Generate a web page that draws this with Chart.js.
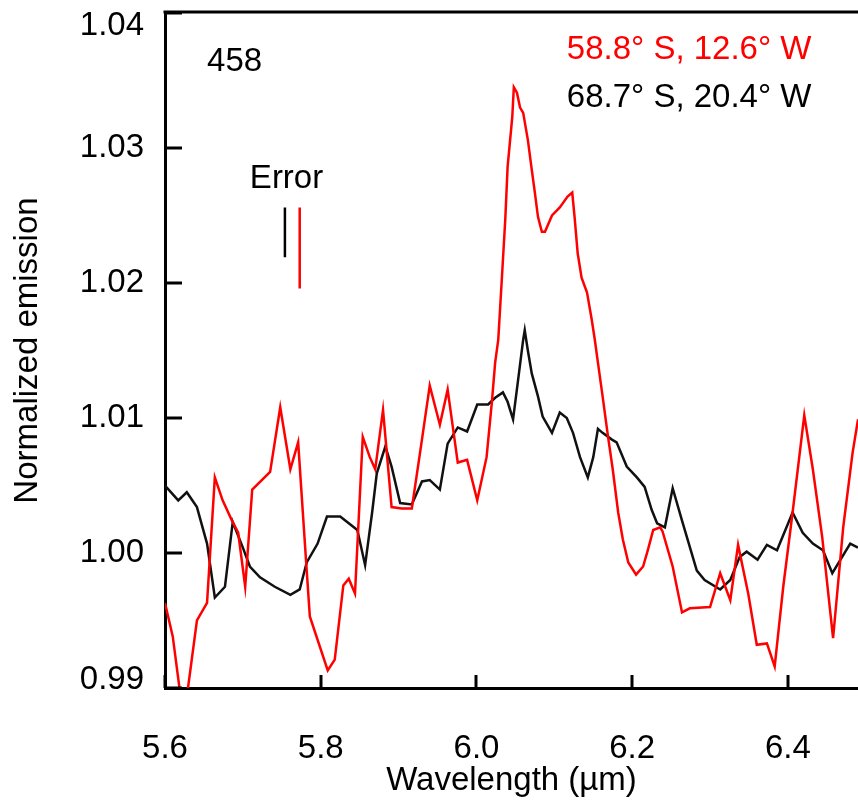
<!DOCTYPE html>
<html>
<head>
<meta charset="utf-8">
<script src="https://cdn.jsdelivr.net/npm/chart.js@4/dist/chart.umd.min.js"></script>
<style>
  html, body { margin: 0; padding: 0; background: #fff; }
  #wrap { width: 858px; height: 801px; }
</style>
</head>
<body>
<div id="wrap"><canvas id="emission-chart"></canvas></div>
<script>
// tick values
const X_TICKS = [5.6, 5.8, 6.0, 6.2, 6.4];
const Y_TICKS = [0.99, 1.00, 1.01, 1.02, 1.03, 1.04];

// 58.8° S, 12.6° W (red)
const RED_WL = [5.600, 5.610, 5.624, 5.641, 5.654, 5.664, 5.674, 5.686, 5.694, 5.703,
  5.712, 5.735, 5.748, 5.761, 5.771, 5.782, 5.786, 5.809, 5.818, 5.829,
  5.836, 5.844, 5.854, 5.863, 5.870, 5.880, 5.891, 5.904, 5.917, 5.930,
  5.940, 5.953, 5.963, 5.976, 5.988, 6.001, 6.013, 6.020, 6.024, 6.028,
  6.033, 6.037, 6.040, 6.046, 6.048, 6.052, 6.056, 6.060, 6.066, 6.071,
  6.075, 6.079, 6.084, 6.088, 6.097, 6.107, 6.117, 6.123, 6.126, 6.130,
  6.135, 6.142, 6.148, 6.152, 6.156, 6.162, 6.169, 6.175, 6.182, 6.188,
  6.195, 6.205, 6.214, 6.220, 6.227, 6.236, 6.239, 6.252, 6.264, 6.274,
  6.300, 6.313, 6.326, 6.336, 6.349, 6.360, 6.373, 6.383, 6.394, 6.406,
  6.421, 6.432, 6.444, 6.458, 6.471, 6.483, 6.490];
const RED_EM = [0.9963, 0.9938, 0.9876, 0.9950, 0.9963, 1.0056, 1.0039, 1.0024, 1.0015, 0.9975,
  1.0047, 1.0060, 1.0108, 1.0062, 1.0082, 0.9987, 0.9953, 0.9913, 0.9921, 0.9976,
  0.9981, 0.9970, 1.0086, 1.0071, 1.0062, 1.0106, 1.0034, 1.0033, 1.0033, 1.0084,
  1.0124, 1.0095, 1.0121, 1.0067, 1.0069, 1.0039, 1.0071, 1.0113, 1.0141, 1.0158,
  1.0207, 1.0247, 1.0286, 1.0323, 1.0345, 1.0341, 1.0330, 1.0326, 1.0306, 1.0284,
  1.0267, 1.0249, 1.0238, 1.0238, 1.0250, 1.0256, 1.0264, 1.0267, 1.0249, 1.0222,
  1.0204, 1.0193, 1.0173, 1.0158, 1.0141, 1.0116, 1.0086, 1.0062, 1.0030, 1.0010,
  0.9993, 0.9984, 0.9990, 1.0002, 1.0017, 1.0019, 1.0016, 0.9990, 0.9956, 0.9959,
  0.9960, 0.9985, 0.9965, 1.0006, 0.9970, 0.9932, 0.9933, 0.9916, 0.9975, 1.0030,
  1.0102, 1.0062, 1.0012, 0.9937, 1.0019, 1.0074, 1.0099];

// 68.7° S, 20.4° W (black)
const BLACK_WL = [5.600, 5.617, 5.628, 5.641, 5.654, 5.664, 5.677, 5.687, 5.700, 5.709,
  5.722, 5.741, 5.761, 5.773, 5.782, 5.796, 5.808, 5.825, 5.847, 5.857,
  5.866, 5.872, 5.883, 5.891, 5.902, 5.917, 5.930, 5.940, 5.953, 5.963,
  5.976, 5.988, 6.001, 6.015, 6.024, 6.034, 6.040, 6.047, 6.053, 6.060,
  6.062, 6.066, 6.071, 6.079, 6.085, 6.097, 6.107, 6.116, 6.124, 6.133,
  6.143, 6.150, 6.156, 6.162, 6.174, 6.180, 6.193, 6.206, 6.216, 6.225,
  6.232, 6.242, 6.252, 6.264, 6.283, 6.293, 6.313, 6.326, 6.338, 6.347,
  6.361, 6.373, 6.386, 6.406, 6.419, 6.432, 6.445, 6.457, 6.480, 6.490];
const BLACK_EM = [1.0050, 1.0039, 1.0045, 1.0034, 1.0007, 0.9967, 0.9975, 1.0023, 1.0004, 0.9990,
  0.9982, 0.9975, 0.9969, 0.9973, 0.9993, 1.0007, 1.0027, 1.0027, 1.0017, 0.9991,
  1.0030, 1.0059, 1.0079, 1.0064, 1.0037, 1.0036, 1.0053, 1.0054, 1.0047, 1.0081,
  1.0093, 1.0090, 1.0110, 1.0110, 1.0115, 1.0119, 1.0112, 1.0099, 1.0126, 1.0158,
  1.0165, 1.0150, 1.0133, 1.0116, 1.0101, 1.0089, 1.0104, 1.0100, 1.0089, 1.0071,
  1.0056, 1.0071, 1.0092, 1.0089, 1.0084, 1.0082, 1.0064, 1.0056, 1.0049, 1.0032,
  1.0022, 1.0019, 1.0048, 1.0024, 0.9987, 0.9980, 0.9973, 0.9980, 0.9997, 1.0001,
  0.9995, 1.0006, 1.0002, 1.0030, 1.0015, 1.0007, 1.0002, 0.9985, 1.0007, 1.0004];

// error bars
const ERR_BLACK_WL = [5.754, 5.754];
const ERR_BLACK_EM = [1.0256, 1.0219];
const ERR_RED_WL = [5.773, 5.773];
const ERR_RED_EM = [1.0256, 1.0196];

const SPOT_LABEL = "458";
const LEGEND_RED = "58.8° S, 12.6° W";
const LEGEND_BLACK = "68.7° S, 20.4° W";
const ERROR_LABEL = "Error";

const FONT = '"Liberation Sans", Arial, Helvetica, sans-serif';
const RED = "#ff0000";
const BLACK = "#111111";

function toPoints(xs, ys) {
  return xs.map((x, i) => ({ x, y: ys[i] }));
}

// text placed in data coordinates
const NOTES = [
  { text: SPOT_LABEL, x: 5.654, y: 1.0364, color: "#000" },
  { text: LEGEND_RED, x: 6.116, y: 1.0373, color: RED },
  { text: LEGEND_BLACK, x: 6.116, y: 1.0337, color: "#000" },
  { text: ERROR_LABEL, x: 5.709, y: 1.0277, color: "#000" },
];

const framePlugin = {
  id: "frame",
  afterDraw(chart) {
    const { ctx, chartArea: a, scales } = chart;
    const x = scales.x, y = scales.y;
    ctx.save();
    ctx.strokeStyle = "#000";
    ctx.lineWidth = 3;
    // top frame line
    ctx.beginPath();
    ctx.moveTo(a.left - 1.5, a.top - 1);
    ctx.lineTo(a.right, a.top - 1);
    ctx.stroke();
    // inward ticks
    X_TICKS.forEach(v => {
      const px = Math.round(x.getPixelForValue(v));
      ctx.beginPath();
      ctx.moveTo(px, a.bottom);
      ctx.lineTo(px, a.bottom - 13);
      ctx.stroke();
    });
    Y_TICKS.forEach(v => {
      const py = Math.round(y.getPixelForValue(v));
      ctx.beginPath();
      ctx.moveTo(a.left, py);
      ctx.lineTo(a.left + 17, py);
      ctx.stroke();
    });
    // y tick labels, edge ones nudged inside
    ctx.font = `33px ${FONT}`;
    ctx.fillStyle = "#000";
    ctx.textAlign = "right";
    ctx.textBaseline = "middle";
    Y_TICKS.forEach(v => {
      let py = y.getPixelForValue(v);
      py = Math.min(Math.max(py, a.top + 13), a.bottom - 8);
      ctx.fillText(v.toFixed(2), a.left - 21, py);
    });
    // notes
    ctx.textAlign = "left";
    NOTES.forEach(n => {
      ctx.fillStyle = n.color;
      ctx.fillText(n.text, x.getPixelForValue(n.x), y.getPixelForValue(n.y));
    });
    ctx.restore();
  },
};

new Chart(document.getElementById("emission-chart"), {
  type: "line",
  data: {
    datasets: [
      {
        label: LEGEND_RED,
        data: toPoints(RED_WL, RED_EM),
        borderColor: RED,
        borderWidth: 2.5,
        pointRadius: 0,
        tension: 0,
        clip: 0,
      },
      {
        label: LEGEND_BLACK,
        data: toPoints(BLACK_WL, BLACK_EM),
        borderColor: BLACK,
        borderWidth: 2.5,
        pointRadius: 0,
        tension: 0,
        clip: 0,
      },
      {
        label: "err black",
        data: toPoints(ERR_BLACK_WL, ERR_BLACK_EM),
        borderColor: "#000",
        borderWidth: 2.5,
        pointRadius: 0,
      },
      {
        label: "err red",
        data: toPoints(ERR_RED_WL, ERR_RED_EM),
        borderColor: RED,
        borderWidth: 2.5,
        pointRadius: 0,
      },
    ],
  },
  options: {
    responsive: true,
    maintainAspectRatio: false,
    animation: false,
    devicePixelRatio: 1,
    layout: { padding: { top: 13, right: 0, left: 0, bottom: 0 } },
    plugins: {
      legend: { display: false },
      tooltip: { enabled: false },
    },
    scales: {
      x: {
        type: "linear",
        min: 5.6,
        max: 6.49,
        afterBuildTicks: (s) => { s.ticks = X_TICKS.map(v => ({ value: v })); },
        afterFit: (s) => { s.height = 113; },
        grid: { display: false, drawTicks: false },
        border: { display: true, color: "#000", width: 3 },
        ticks: {
          color: "#000",
          font: { family: FONT, size: 33 },
          padding: 41,
          maxRotation: 0,
          autoSkip: false,
          callback: (v) => Number(v).toFixed(1),
        },
        title: {
          display: true,
          text: "Wavelength (µm)",
          color: "#000",
          font: { family: FONT, size: 33 },
          padding: { top: 0, bottom: 0 },
        },
      },
      y: {
        min: 0.99,
        max: 1.04,
        afterBuildTicks: (s) => { s.ticks = Y_TICKS.map(v => ({ value: v })); },
        afterFit: (s) => { s.width = 165; },
        grid: { display: false, drawTicks: false },
        border: { display: true, color: "#000", width: 3 },
        ticks: { display: false },
        title: {
          display: true,
          text: "Normalized emission",
          color: "#000",
          font: { family: FONT, size: 33 },
          padding: { top: 8, bottom: 0 },
        },
      },
    },
  },
  plugins: [framePlugin],
});
</script>
</body>
</html>
